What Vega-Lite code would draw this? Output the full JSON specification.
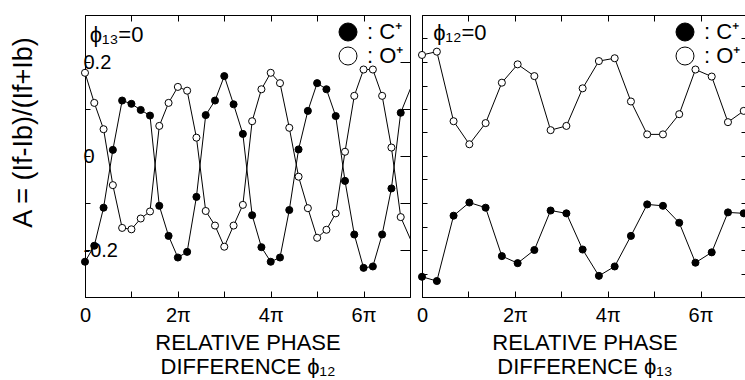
{
  "$schema": "https://vega.github.io/schema/vega-lite/v6.json",
  "padding": {"left": 8, "top": 14, "right": 0, "bottom": 0},
  "background": "white",
  "config": {
    "font": "Liberation Sans",
    "view": {"stroke": "black", "strokeWidth": 1},
    "axis": {
      "domainColor": "black", "tickColor": "black", "labelColor": "black", "titleColor": "black",
      "grid": false, "labelFont": "Liberation Sans", "titleFont": "Liberation Sans",
      "titleFontWeight": "normal", "labelFlush": false, "domainWidth": 1, "tickWidth": 1,
      "minExtent": 0
    },
    "legend": {
      "labelFont": "Liberation Sans", "labelColor": "black", "symbolStrokeColor": "black",
      "symbolStrokeWidth": 1, "symbolOpacity": 1
    }
  },
  "datasets": {
    "left": [
      {"phase": 0, "A": 0.177, "ion": "O⁺"}, {"phase": 0.2, "A": 0.113, "ion": "O⁺"},
      {"phase": 0.4, "A": 0.057, "ion": "O⁺"}, {"phase": 0.6, "A": -0.062, "ion": "O⁺"},
      {"phase": 0.8, "A": -0.153, "ion": "O⁺"}, {"phase": 1.0, "A": -0.156, "ion": "O⁺"},
      {"phase": 1.2, "A": -0.133, "ion": "O⁺"}, {"phase": 1.4, "A": -0.118, "ion": "O⁺"},
      {"phase": 1.6, "A": 0.064, "ion": "O⁺"}, {"phase": 1.8, "A": 0.113, "ion": "O⁺"},
      {"phase": 2.0, "A": 0.147, "ion": "O⁺"}, {"phase": 2.2, "A": 0.139, "ion": "O⁺"},
      {"phase": 2.4, "A": 0.039, "ion": "O⁺"}, {"phase": 2.6, "A": -0.117, "ion": "O⁺"},
      {"phase": 2.8, "A": -0.148, "ion": "O⁺"}, {"phase": 3.0, "A": -0.193, "ion": "O⁺"},
      {"phase": 3.2, "A": -0.148, "ion": "O⁺"}, {"phase": 3.4, "A": -0.104, "ion": "O⁺"},
      {"phase": 3.6, "A": 0.074, "ion": "O⁺"}, {"phase": 3.8, "A": 0.142, "ion": "O⁺"},
      {"phase": 4.0, "A": 0.177, "ion": "O⁺"}, {"phase": 4.2, "A": 0.155, "ion": "O⁺"},
      {"phase": 4.4, "A": 0.060, "ion": "O⁺"}, {"phase": 4.6, "A": -0.044, "ion": "O⁺"},
      {"phase": 4.8, "A": -0.111, "ion": "O⁺"}, {"phase": 5.0, "A": -0.174, "ion": "O⁺"},
      {"phase": 5.2, "A": -0.157, "ion": "O⁺"}, {"phase": 5.4, "A": -0.122, "ion": "O⁺"},
      {"phase": 5.6, "A": 0.009, "ion": "O⁺"}, {"phase": 5.8, "A": 0.128, "ion": "O⁺"},
      {"phase": 6.0, "A": 0.184, "ion": "O⁺"}, {"phase": 6.2, "A": 0.184, "ion": "O⁺"},
      {"phase": 6.4, "A": 0.128, "ion": "O⁺"}, {"phase": 6.6, "A": 0.018, "ion": "O⁺"},
      {"phase": 6.8, "A": -0.130, "ion": "O⁺"}, {"phase": 7.2, "A": -0.22, "ion": "O⁺"},
      {"phase": 0, "A": -0.225, "ion": "C⁺"}, {"phase": 0.2, "A": -0.191, "ion": "C⁺"},
      {"phase": 0.4, "A": -0.110, "ion": "C⁺"}, {"phase": 0.6, "A": 0.013, "ion": "C⁺"},
      {"phase": 0.8, "A": 0.118, "ion": "C⁺"}, {"phase": 1.0, "A": 0.111, "ion": "C⁺"},
      {"phase": 1.2, "A": 0.098, "ion": "C⁺"}, {"phase": 1.4, "A": 0.086, "ion": "C⁺"},
      {"phase": 1.6, "A": -0.106, "ion": "C⁺"}, {"phase": 1.8, "A": -0.170, "ion": "C⁺"},
      {"phase": 2.0, "A": -0.216, "ion": "C⁺"}, {"phase": 2.2, "A": -0.204, "ion": "C⁺"},
      {"phase": 2.4, "A": -0.087, "ion": "C⁺"}, {"phase": 2.6, "A": 0.087, "ion": "C⁺"},
      {"phase": 2.8, "A": 0.118, "ion": "C⁺"}, {"phase": 3.0, "A": 0.170, "ion": "C⁺"},
      {"phase": 3.2, "A": 0.110, "ion": "C⁺"}, {"phase": 3.4, "A": 0.047, "ion": "C⁺"},
      {"phase": 3.6, "A": -0.126, "ion": "C⁺"}, {"phase": 3.8, "A": -0.194, "ion": "C⁺"},
      {"phase": 4.0, "A": -0.225, "ion": "C⁺"}, {"phase": 4.2, "A": -0.216, "ion": "C⁺"},
      {"phase": 4.4, "A": -0.115, "ion": "C⁺"}, {"phase": 4.6, "A": 0.014, "ion": "C⁺"},
      {"phase": 4.8, "A": 0.096, "ion": "C⁺"}, {"phase": 5.0, "A": 0.155, "ion": "C⁺"},
      {"phase": 5.2, "A": 0.142, "ion": "C⁺"}, {"phase": 5.4, "A": 0.085, "ion": "C⁺"},
      {"phase": 5.6, "A": -0.053, "ion": "C⁺"}, {"phase": 5.8, "A": -0.167, "ion": "C⁺"},
      {"phase": 6.0, "A": -0.238, "ion": "C⁺"}, {"phase": 6.2, "A": -0.235, "ion": "C⁺"},
      {"phase": 6.4, "A": -0.167, "ion": "C⁺"}, {"phase": 6.6, "A": -0.069, "ion": "C⁺"},
      {"phase": 6.8, "A": 0.092, "ion": "C⁺"}, {"phase": 7.2, "A": 0.19, "ion": "C⁺"}
    ],
    "right": [
      {"phase": 0, "A": 0.215, "ion": "O⁺"}, {"phase": 0.32, "A": 0.222, "ion": "O⁺"},
      {"phase": 0.68, "A": 0.074, "ion": "O⁺"}, {"phase": 1.02, "A": 0.025, "ion": "O⁺"},
      {"phase": 1.37, "A": 0.070, "ion": "O⁺"}, {"phase": 1.72, "A": 0.156, "ion": "O⁺"},
      {"phase": 2.06, "A": 0.195, "ion": "O⁺"}, {"phase": 2.42, "A": 0.170, "ion": "O⁺"},
      {"phase": 2.77, "A": 0.055, "ion": "O⁺"}, {"phase": 3.11, "A": 0.064, "ion": "O⁺"},
      {"phase": 3.46, "A": 0.144, "ion": "O⁺"}, {"phase": 3.81, "A": 0.202, "ion": "O⁺"},
      {"phase": 4.15, "A": 0.208, "ion": "O⁺"}, {"phase": 4.5, "A": 0.116, "ion": "O⁺"},
      {"phase": 4.85, "A": 0.046, "ion": "O⁺"}, {"phase": 5.19, "A": 0.046, "ion": "O⁺"},
      {"phase": 5.54, "A": 0.089, "ion": "O⁺"}, {"phase": 5.89, "A": 0.184, "ion": "O⁺"},
      {"phase": 6.24, "A": 0.169, "ion": "O⁺"}, {"phase": 6.59, "A": 0.072, "ion": "O⁺"},
      {"phase": 6.93, "A": 0.096, "ion": "O⁺"},
      {"phase": 0, "A": -0.257, "ion": "C⁺"}, {"phase": 0.32, "A": -0.266, "ion": "C⁺"},
      {"phase": 0.68, "A": -0.127, "ion": "C⁺"}, {"phase": 1.02, "A": -0.099, "ion": "C⁺"},
      {"phase": 1.37, "A": -0.110, "ion": "C⁺"}, {"phase": 1.72, "A": -0.213, "ion": "C⁺"},
      {"phase": 2.06, "A": -0.228, "ion": "C⁺"}, {"phase": 2.42, "A": -0.200, "ion": "C⁺"},
      {"phase": 2.77, "A": -0.116, "ion": "C⁺"}, {"phase": 3.11, "A": -0.122, "ion": "C⁺"},
      {"phase": 3.46, "A": -0.199, "ion": "C⁺"}, {"phase": 3.81, "A": -0.255, "ion": "C⁺"},
      {"phase": 4.15, "A": -0.235, "ion": "C⁺"}, {"phase": 4.5, "A": -0.170, "ion": "C⁺"},
      {"phase": 4.85, "A": -0.103, "ion": "C⁺"}, {"phase": 5.19, "A": -0.106, "ion": "C⁺"},
      {"phase": 5.54, "A": -0.142, "ion": "C⁺"}, {"phase": 5.89, "A": -0.227, "ion": "C⁺"},
      {"phase": 6.24, "A": -0.205, "ion": "C⁺"}, {"phase": 6.59, "A": -0.120, "ion": "C⁺"},
      {"phase": 6.93, "A": -0.122, "ion": "C⁺"}
    ],
    "noteLeft": [{"phase": 0.1, "A": 0.257, "label": "ϕ₁₃=0"}],
    "noteRight": [{"phase": 0.24, "A": 0.262, "label": "ϕ₁₂=0"}]
  },
  "spacing": 4,
  "resolve": {"scale": {"fill": "independent"}, "legend": {"fill": "independent"}},
  "hconcat": [
    {
      "width": 325,
      "height": 282,
      "resolve": {"axis": {"x": "independent", "y": "independent"}},
      "layer": [
        {
          "data": {"name": "left"},
          "mark": {"type": "line", "color": "black", "strokeWidth": 1, "clip": true},
          "encoding": {
            "x": {"field": "phase", "type": "quantitative",
              "scale": {"domain": [0, 7], "nice": false, "zero": false},
              "axis": {"orient": "bottom", "values": [0, 1, 2, 3, 4, 5, 6],
                "labelExpr": "datum.value == 0 ? '0' : (datum.value % 2 == 0 ? datum.value + 'π' : '')",
                "tickSize": -6, "labelFontSize": 20, "labelPadding": 14,
                "title": ["RELATIVE PHASE", "DIFFERENCE ϕ₁₂"], "titleFontSize": 22,
                "titlePadding": 7, "titleLineHeight": 24}},
            "y": {"field": "A", "type": "quantitative",
              "scale": {"domain": [-0.3, 0.3], "nice": false, "zero": false},
              "axis": {"orient": "left", "values": [-0.2, -0.1, 0, 0.1, 0.2],
                "labelExpr": "datum.value > 0.15 ? '0.2' : (datum.value < -0.15 ? '-0.2' : (abs(datum.value) < 0.01 ? '0' : ''))",
                "labelAlign": "left", "labelBaseline": "middle", "labelPadding": 7,
                "tickSize": -5, "labelFontSize": 20,
                "title": "A = (If-Ib)/(If+Ib)", "titleFontSize": 27, "titlePadding": 46, "titleY": 117}},
            "detail": {"field": "ion"}
          }
        },
        {
          "data": {"name": "left"},
          "transform": [{"filter": "datum.phase <= 7"}],
          "mark": {"type": "point", "shape": "circle", "filled": true, "stroke": "black", "strokeWidth": 1, "size": 50, "opacity": 1},
          "encoding": {
            "x": {"field": "phase", "type": "quantitative", "axis": null},
            "y": {"field": "A", "type": "quantitative", "axis": null},
            "fill": {"field": "ion", "type": "nominal",
              "scale": {"domain": ["C⁺", "O⁺"], "range": ["black", "white"]},
              "legend": {"title": null, "orient": "top-right", "offset": 6, "symbolSize": 324,
                "symbolType": "circle", "labelFontSize": 22, "labelOffset": 8,
                "labelExpr": "': ' + datum.label", "rowPadding": 2,
                "symbolStrokeColor": "black", "symbolStrokeWidth": 1}}
          }
        },
        {
          "data": {"name": "left"},
          "transform": [{"filter": "datum.phase <= 7"}],
          "mark": {"type": "point", "opacity": 0, "clip": true},
          "encoding": {
            "x": {"field": "phase", "type": "quantitative",
              "axis": {"orient": "top", "values": [1, 2, 3, 4, 5, 6], "labels": false, "tickSize": -6, "title": null}},
            "y": {"field": "A", "type": "quantitative",
              "axis": {"orient": "right", "values": [-0.2, -0.1, 0, 0.1, 0.2], "labels": false, "tickSize": -10, "title": null}}
          }
        },
        {
          "data": {"name": "noteLeft"},
          "mark": {"type": "text", "align": "left", "baseline": "middle", "fontSize": 22, "color": "black"},
          "encoding": {
            "x": {"field": "phase", "type": "quantitative", "axis": null},
            "y": {"field": "A", "type": "quantitative", "axis": null},
            "text": {"field": "label"}
          }
        }
      ]
    },
    {
      "width": 325,
      "height": 282,
      "resolve": {"axis": {"x": "independent", "y": "independent"}},
      "layer": [
        {
          "data": {"name": "right"},
          "mark": {"type": "line", "color": "black", "strokeWidth": 1, "clip": true},
          "encoding": {
            "x": {"field": "phase", "type": "quantitative",
              "scale": {"domain": [0, 7], "nice": false, "zero": false},
              "axis": {"orient": "bottom", "values": [0, 1, 2, 3, 4, 5, 6],
                "labelExpr": "datum.value == 0 ? '0' : (datum.value % 2 == 0 ? datum.value + 'π' : '')",
                "tickSize": -6, "labelFontSize": 20, "labelPadding": 14,
                "title": ["RELATIVE PHASE", "DIFFERENCE ϕ₁₃"], "titleFontSize": 22,
                "titlePadding": 7, "titleLineHeight": 24}},
            "y": {"field": "A", "type": "quantitative",
              "scale": {"domain": [-0.3, 0.3], "nice": false, "zero": false},
              "axis": {"orient": "left", "values": [-0.25, -0.2, -0.15, -0.1, -0.05, 0, 0.05, 0.1, 0.15, 0.2, 0.25],
                "labels": false, "tickSize": -5, "title": null}},
            "detail": {"field": "ion"}
          }
        },
        {
          "data": {"name": "right"},
          "mark": {"type": "point", "shape": "circle", "filled": true, "stroke": "black", "strokeWidth": 1, "size": 50, "opacity": 1},
          "encoding": {
            "x": {"field": "phase", "type": "quantitative", "axis": null},
            "y": {"field": "A", "type": "quantitative", "axis": null},
            "fill": {"field": "ion", "type": "nominal",
              "scale": {"domain": ["C⁺", "O⁺"], "range": ["black", "white"]},
              "legend": {"title": null, "orient": "top-right", "offset": 6, "symbolSize": 324,
                "symbolType": "circle", "labelFontSize": 22, "labelOffset": 8,
                "labelExpr": "': ' + datum.label", "rowPadding": 2,
                "symbolStrokeColor": "black", "symbolStrokeWidth": 1}}
          }
        },
        {
          "data": {"name": "right"},
          "mark": {"type": "point", "opacity": 0, "clip": true},
          "encoding": {
            "x": {"field": "phase", "type": "quantitative",
              "axis": {"orient": "top", "values": [1, 2, 3, 4, 5, 6], "labels": false, "tickSize": -6, "title": null}},
            "y": {"field": "A", "type": "quantitative",
              "axis": {"orient": "right", "values": [-0.25, -0.2, -0.15, -0.1, -0.05, 0, 0.05, 0.1, 0.15, 0.2, 0.25], "labels": false, "tickSize": -6, "title": null}}
          }
        },
        {
          "data": {"name": "noteRight"},
          "mark": {"type": "text", "align": "left", "baseline": "middle", "fontSize": 22, "color": "black"},
          "encoding": {
            "x": {"field": "phase", "type": "quantitative", "axis": null},
            "y": {"field": "A", "type": "quantitative", "axis": null},
            "text": {"field": "label"}
          }
        }
      ]
    }
  ]
}
